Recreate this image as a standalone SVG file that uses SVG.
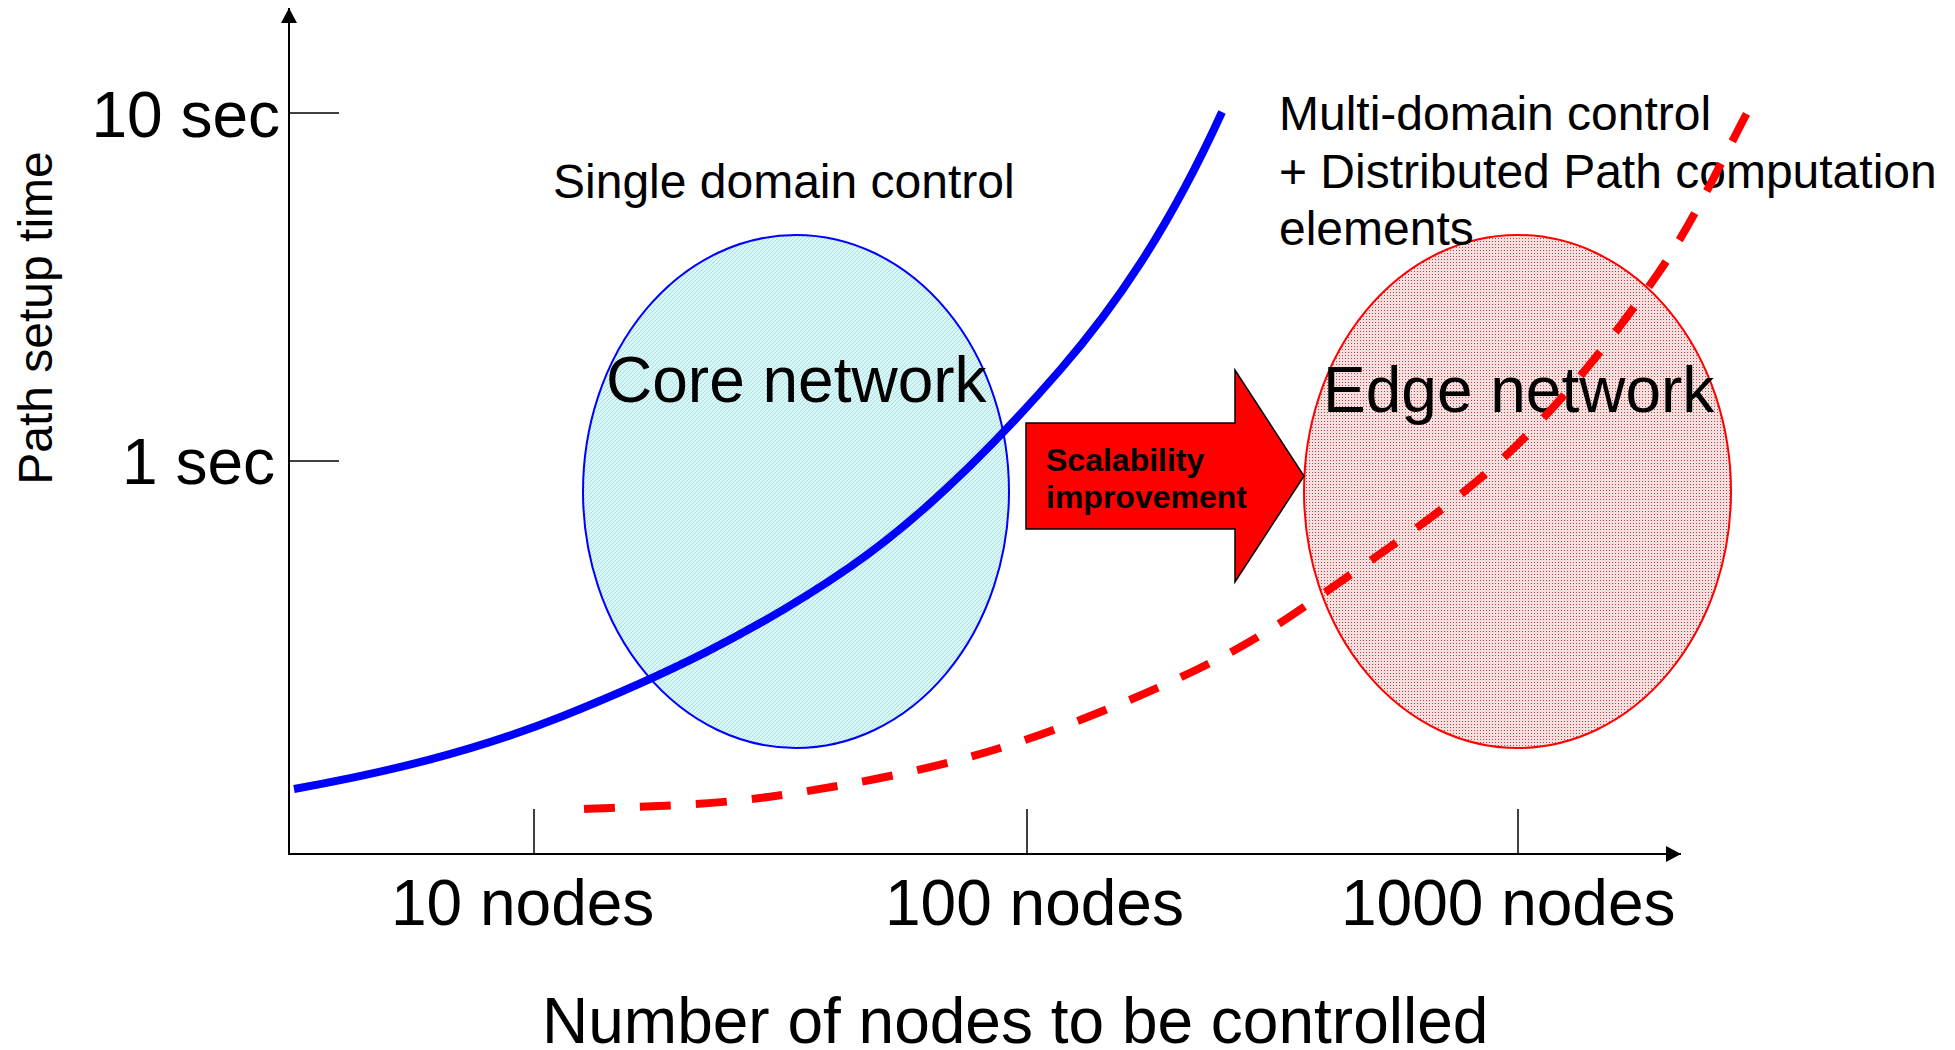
<svg xmlns="http://www.w3.org/2000/svg" width="1955" height="1050" viewBox="0 0 1955 1050">
<style>
  text { font-family: "Liberation Sans", Arial, sans-serif; fill: #000; }
  .axis { stroke: #000; stroke-width: 2; fill: none; }
  .tick { stroke: #000; stroke-width: 1.5; fill: none; }
  .big { font-size: 64px; }
  .mid { font-size: 48px; }
  .net { font-size: 64px; }
  .bold { font-size: 32px; font-weight: bold; }
</style>
<defs>
  <pattern id="hatch" width="4" height="4" patternUnits="userSpaceOnUse">
    <rect width="4" height="4" fill="#d8f7f7"/>
    <path d="M0,4 L4,0 M-1,1 L1,-1 M3,5 L5,3" stroke="#a9d9dd" stroke-width="0.9"/>
  </pattern>
  <pattern id="dots" width="3" height="3" patternUnits="userSpaceOnUse">
    <rect width="3" height="3" fill="#f7dfdf"/>
    <rect x="1" y="1" width="1" height="1" fill="#a84848"/>
  </pattern>
  <marker id="ah" viewBox="0 0 15 16" refX="15" refY="8" markerWidth="15" markerHeight="16" markerUnits="userSpaceOnUse" orient="auto">
    <path d="M0,0 L15,8 L0,16 Z" fill="#000"/>
  </marker>
</defs>
<rect width="1955" height="1050" fill="#fff"/>

<g id="axes">
  <line class="axis" x1="289" y1="855" x2="289" y2="8" marker-end="url(#ah)"/>
  <line class="axis" x1="288" y1="854" x2="1681" y2="854" marker-end="url(#ah)"/>
  <line class="tick" x1="289" y1="113" x2="339" y2="113"/>
  <line class="tick" x1="289" y1="461" x2="339" y2="461"/>
  <line class="tick" x1="534" y1="809" x2="534" y2="854"/>
  <line class="tick" x1="1027" y1="809" x2="1027" y2="854"/>
  <line class="tick" x1="1518" y1="809" x2="1518" y2="854"/>
  <text class="big" x="280" y="137" text-anchor="end">10 sec</text>
  <text class="big" x="275" y="484" text-anchor="end">1 sec</text>
  <text x="0" y="0" font-size="48" text-anchor="middle" transform="translate(52,318) rotate(-90)">Path setup time</text>
  <text class="big" x="391" y="925">10 nodes</text>
  <text class="big" x="885" y="925">100 nodes</text>
  <text class="big" x="1341" y="925">1000 nodes</text>
  <text x="542" y="1043" font-size="64">Number of nodes to be controlled</text>
</g>

<g id="core-network">
  <ellipse cx="796" cy="491.5" rx="213" ry="256.5" fill="url(#hatch)" stroke="#0000ff" stroke-width="2"/>
  <text class="net" x="606" y="402">Core network</text>
</g>

<g id="edge-network">
  <ellipse cx="1517.5" cy="491.5" rx="213.5" ry="256.5" fill="url(#dots)" stroke="#ff0000" stroke-width="2"/>
  <text class="net" x="1323" y="412">Edge network</text>
</g>

<g id="single-domain-label">
  <text class="mid" x="553" y="198">Single domain control</text>
</g>

<g id="multi-domain-label">
  <text class="mid" x="1279" y="130">Multi-domain control</text>
  <text class="mid" x="1279" y="188">+ Distributed Path computation</text>
  <text class="mid" x="1279" y="245">elements</text>
</g>

<g id="connectors">
  <path d="M294,789 C383.7,772.9 473.3,751.9 563,716 C658.7,677.7 754.3,633 850,567 C920,518.7 990,450.5 1060,370 C1114,307.9 1168,230.8 1222,112" fill="none" stroke="#0000ff" stroke-width="8"/>
  <path d="M584,809 C614.7,807 700.8,806.5 768,797 C835.2,787.5 915.7,773.2 987,752 C1058.3,730.8 1137.2,698.3 1196,670 C1254.8,641.7 1286.8,619.2 1340,582 C1393.2,544.8 1462.2,498.2 1515,447 C1567.8,395.8 1618.3,330.7 1657,275 C1695.7,219.3 1732,140 1747,113" fill="none" stroke="#ff0000" stroke-width="8" stroke-dasharray="31 25"/>
</g>

<g id="scalability-arrow">
  <path d="M1026,423 L1235,423 L1235,370 L1304,476 L1235,582 L1235,529 L1026,529 Z" fill="#ff0000" stroke="#000" stroke-width="1.5" stroke-linejoin="miter"/>
  <text class="bold" x="1046" y="471">Scalability</text>
  <text class="bold" x="1046" y="508">improvement</text>
</g>
</svg>
